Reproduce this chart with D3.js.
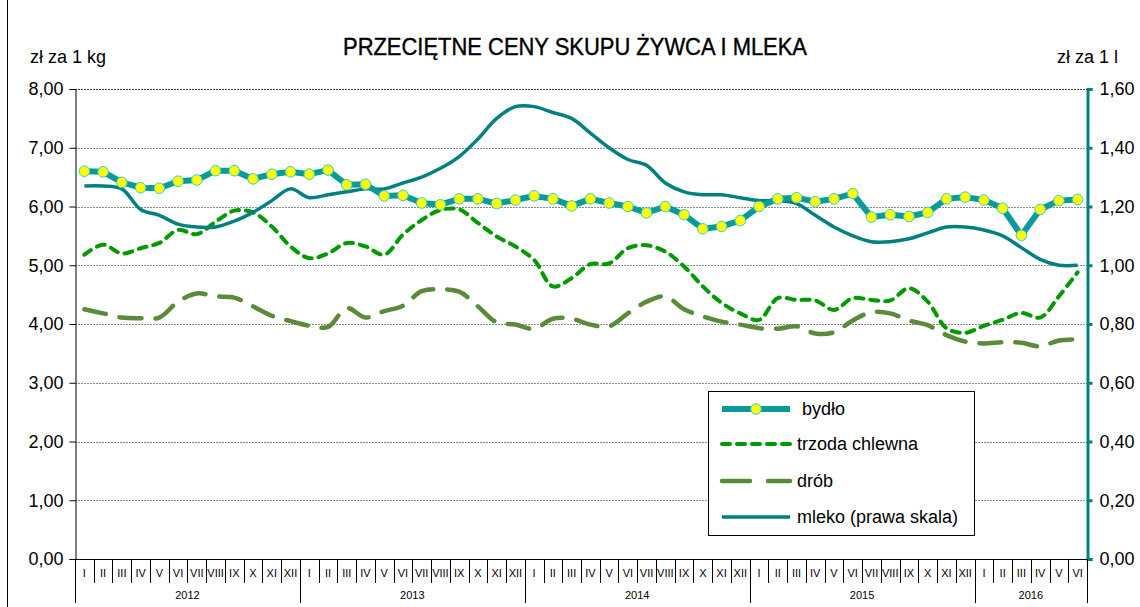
<!DOCTYPE html>
<html>
<head>
<meta charset="utf-8">
<script src="https://cdn.jsdelivr.net/npm/d3@7"></script>
<style>
  body { margin: 0; background: #fff; }
  svg text { font-family: "Liberation Sans", Arial, sans-serif; fill: #000; }
</style>
</head>
<body>
<div id="chart"></div>
<script>
// months I..XII, years 2012..2016 (to VI)
var monthNames = ["I","II","III","IV","V","VI","VII","VIII","IX","X","XI","XII"];
var years = [2012, 2013, 2014, 2015, 2016];
var monthsInYear = [12, 12, 12, 12, 6];

// zł za 1 kg
var bydlo = [6.60,6.59,6.41,6.32,6.31,6.43,6.45,6.61,6.61,6.47,6.55,6.59,6.55,6.62,6.37,6.38,6.18,6.19,6.06,6.03,
  6.13,6.13,6.05,6.11,6.18,6.13,6.01,6.13,6.06,6.00,5.89,6.00,5.86,5.62,5.66,5.76,6.00,6.13,6.15,6.08,
  6.13,6.22,5.82,5.86,5.83,5.90,6.13,6.16,6.11,5.97,5.51,5.95,6.10,6.12];
var trzoda = [5.18,5.35,5.20,5.29,5.38,5.60,5.53,5.74,5.93,5.90,5.66,5.32,5.12,5.20,5.38,5.32,5.18,5.52,5.77,5.94,
  5.95,5.72,5.49,5.32,5.09,4.64,4.78,5.02,5.03,5.29,5.34,5.23,4.98,4.64,4.36,4.18,4.07,4.44,4.41,4.40,
  4.24,4.44,4.41,4.40,4.61,4.38,3.93,3.85,3.97,4.07,4.19,4.11,4.47,4.88];
var drob = [4.25,4.18,4.11,4.10,4.11,4.38,4.52,4.47,4.45,4.30,4.14,4.05,3.97,3.95,4.27,4.11,4.22,4.31,4.56,4.59,
  4.55,4.30,4.03,3.99,3.92,4.09,4.09,3.99,3.96,4.18,4.38,4.47,4.25,4.13,4.04,3.99,3.93,3.92,3.96,3.84,
  3.86,4.06,4.20,4.18,4.06,3.98,3.81,3.70,3.67,3.69,3.68,3.62,3.72,3.74];
// zł za 1 l (prawa skala)
var mleko = [1.27,1.27,1.26,1.19,1.17,1.14,1.13,1.13,1.15,1.18,1.22,1.26,1.23,1.24,1.25,1.26,1.26,1.28,1.30,1.33,
  1.37,1.43,1.50,1.54,1.54,1.52,1.50,1.45,1.40,1.36,1.34,1.28,1.25,1.24,1.24,1.23,1.22,1.22,1.21,1.17,
  1.13,1.10,1.08,1.08,1.09,1.11,1.13,1.13,1.12,1.10,1.06,1.02,1.00,1.00];

var leftTicks = [0,1,2,3,4,5,6,7,8];
var rightTicks = [0,0.2,0.4,0.6,0.8,1.0,1.2,1.4,1.6];

var width = 1140, height = 607;
var pLeft = 75, pRight = 1087, pTop = 89, pBottom = 559;

var pl = d3.formatLocale({decimal: ",", thousands: " ", grouping: [3], currency: ["", " zł"]});
var fmt = pl.format(".2f");

var svg = d3.select("#chart").append("svg")
  .attr("width", width).attr("height", height);

var n = bydlo.length;
var x = d3.scaleBand().domain(d3.range(n)).range([pLeft, pRight]).padding(0);
var y = d3.scaleLinear().domain([0, 8]).range([pBottom, pTop]);
var yR = d3.scaleLinear().domain([0, 1.6]).range([pBottom, pTop]);
var cx = function(i) { return x(i) + x.bandwidth() / 2; };

// frame line on the left
svg.append("line").attr("x1", 7.5).attr("x2", 7.5).attr("y1", 0).attr("y2", height)
  .attr("stroke", "#000").attr("stroke-width", 1);

// grid
svg.append("g").selectAll("line").data(leftTicks.slice(1)).enter().append("line")
  .attr("x1", pLeft).attr("x2", pRight)
  .attr("y1", function(d) { return Math.round(y(d)) + 0.5; })
  .attr("y2", function(d) { return Math.round(y(d)) + 0.5; })
  .attr("stroke", function(d) { return d === 8 ? "#444" : "#888"; })
  .attr("stroke-dasharray", "2,1")
  .attr("stroke-width", 1);

// left axis
var axL = svg.append("g").attr("transform", "translate(" + (pLeft + 0.5) + ",0)")
  .call(d3.axisLeft(y).tickValues(leftTicks).tickFormat(fmt).tickSize(6).tickPadding(6));
axL.select(".domain").attr("stroke", "#000");
axL.selectAll(".tick line").attr("stroke", "#000");
axL.selectAll("text").style("font-size", "18px");

// right axis
var axR = svg.append("g").attr("transform", "translate(" + (pRight + 0.5) + ",0)")
  .call(d3.axisRight(yR).tickValues(rightTicks).tickFormat(fmt).tickSize(5).tickPadding(7));
axR.select(".domain").attr("stroke", "#008080").attr("stroke-width", 3);
axR.selectAll(".tick line").attr("stroke", "#008080").attr("stroke-width", 3);
axR.selectAll("text").style("font-size", "18px");

// x axis: months and years
var xa = svg.append("g");
xa.append("line").attr("x1", pLeft).attr("x2", pRight)
  .attr("y1", pBottom + 0.5).attr("y2", pBottom + 0.5).attr("stroke", "#000");
var monthIdx = d3.range(n);
xa.selectAll(".msep").data(monthIdx.slice(1)).enter().append("line")
  .attr("x1", function(i) { return Math.round(x(i)) + 0.5; })
  .attr("x2", function(i) { return Math.round(x(i)) + 0.5; })
  .attr("y1", pBottom).attr("y2", pBottom + 24).attr("stroke", "#000");
xa.selectAll(".mlab").data(monthIdx).enter().append("text")
  .attr("x", cx).attr("y", pBottom + 18)
  .attr("text-anchor", "middle").style("font-size", "11px")
  .text(function(i) { return monthNames[i % 12]; });

var starts = [0];
monthsInYear.forEach(function(m, k) { starts.push(starts[k] + m); });
xa.selectAll(".ysep").data(starts).enter().append("line")
  .attr("x1", function(s) { return s < n ? Math.round(x(s)) + 0.5 : pRight + 0.5; })
  .attr("x2", function(s) { return s < n ? Math.round(x(s)) + 0.5 : pRight + 0.5; })
  .attr("y1", pBottom).attr("y2", pBottom + 44).attr("stroke", "#000");
xa.selectAll(".ylab").data(years).enter().append("text")
  .attr("x", function(yr, k) {
    var a = x(starts[k]), b = starts[k + 1] < n ? x(starts[k + 1]) : pRight;
    return (a + b) / 2;
  })
  .attr("y", pBottom + 40).attr("text-anchor", "middle").style("font-size", "11px")
  .text(function(d) { return d; });

// series
var smooth = d3.curveCatmullRom.alpha(0.5);
var lineL = d3.line().x(function(d, i) { return cx(i); }).y(function(d) { return y(d); });
var lineLs = d3.line().x(function(d, i) { return cx(i); }).y(function(d) { return y(d); }).curve(smooth);
var lineR = d3.line().x(function(d, i) { return cx(i); }).y(function(d) { return yR(d); }).curve(smooth);

svg.append("path").datum(drob).attr("d", lineLs).attr("fill", "none")
  .attr("stroke", "#5b8a3a").attr("stroke-width", 4.5).attr("stroke-dasharray", "22,14")
  .attr("stroke-linecap", "round");
svg.append("path").datum(trzoda).attr("d", lineLs).attr("fill", "none")
  .attr("stroke", "#009900").attr("stroke-width", 4).attr("stroke-dasharray", "8,7")
  .attr("stroke-linecap", "round");
svg.append("path").datum(mleko).attr("d", lineR).attr("fill", "none")
  .attr("stroke", "#008080").attr("stroke-width", 3.5);
svg.append("path").datum(bydlo).attr("d", lineL).attr("fill", "none")
  .attr("stroke", "#0a9a9a").attr("stroke-width", 6).attr("stroke-linejoin", "round");
svg.append("g").selectAll("circle").data(bydlo).enter().append("circle")
  .attr("cx", function(d, i) { return cx(i); }).attr("cy", function(d) { return y(d); })
  .attr("r", 5.3).attr("fill", "#ffff00").attr("stroke", "#33cccc").attr("stroke-width", 1);

// titles
svg.append("text").attr("x", 575).attr("y", 55).attr("text-anchor", "middle")
  .attr("textLength", 464).attr("lengthAdjust", "spacingAndGlyphs")
  .style("font-size", "24px").style("stroke", "#000").style("stroke-width", "0.4px")
  .text("PRZECIĘTNE CENY SKUPU ŻYWCA I MLEKA");
svg.append("text").attr("x", 30).attr("y", 63).style("font-size", "18px").text("zł za 1 kg");
svg.append("text").attr("x", 1118).attr("y", 63).attr("text-anchor", "end")
  .style("font-size", "18px").text("zł za 1 l");

// legend
var lg = svg.append("g");
lg.append("rect").attr("x", 708.5).attr("y", 391.5).attr("width", 266).attr("height", 144)
  .attr("fill", "#fff").attr("stroke", "#000");
var legendItems = [
  {name: "bydło", color: "#0a9a9a", w: 6, dash: null, tx: 802},
  {name: "trzoda chlewna", color: "#009900", w: 4, dash: "8,7", tx: 797},
  {name: "drób", color: "#5b8a3a", w: 4.5, dash: "28,18", tx: 797},
  {name: "mleko (prawa skala)", color: "#008080", w: 3.5, dash: null, tx: 797}
];
var rowY = [409, 444, 481, 517];
legendItems.forEach(function(it, k) {
  lg.append("line").attr("x1", 722).attr("x2", 790).attr("y1", rowY[k]).attr("y2", rowY[k])
    .attr("stroke", it.color).attr("stroke-width", it.w)
    .attr("stroke-dasharray", it.dash).attr("stroke-linecap", it.dash ? "round" : "butt");
  if (k === 0) {
    lg.append("circle").attr("cx", 756).attr("cy", rowY[k]).attr("r", 5.3)
      .attr("fill", "#ffff00").attr("stroke", "#33cccc");
  }
  lg.append("text").attr("x", it.tx).attr("y", rowY[k] + 6).style("font-size", "18px").text(it.name);
});
</script>
</body>
</html>
